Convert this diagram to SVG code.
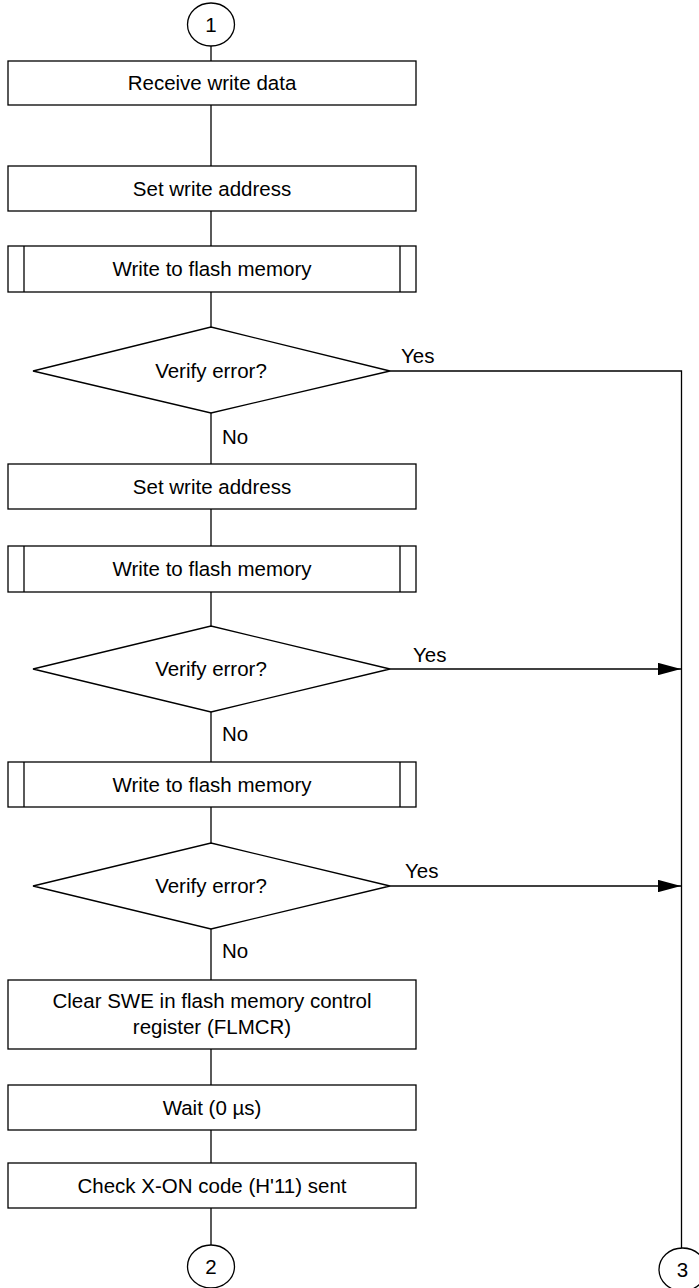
<svg xmlns="http://www.w3.org/2000/svg" width="699" height="1288" viewBox="0 0 699 1288">
<defs>
<style>
.s{fill:#fff;stroke:#000;stroke-width:1.3}
.l{fill:none;stroke:#000;stroke-width:1.3}
.t{font-family:"Liberation Sans",Arial,sans-serif;font-size:20.5px;fill:#000}
.c{text-anchor:middle}
</style>
<marker id="ah" viewBox="0 0 23 12.4" refX="23" refY="6.2" markerWidth="23" markerHeight="12.4" markerUnits="userSpaceOnUse" orient="auto">
<path d="M0,0 L23,6.2 L0,12.4 Z" fill="#000"/>
</marker>
</defs>
<g id="connectors">
<line class="l" x1="211" y1="46" x2="211" y2="61"/>
<line class="l" x1="211" y1="105" x2="211" y2="166"/>
<line class="l" x1="211" y1="211" x2="211" y2="246"/>
<line class="l" x1="211" y1="292" x2="211" y2="327"/>
<line class="l" x1="211" y1="413" x2="211" y2="464"/>
<line class="l" x1="211" y1="509" x2="211" y2="546"/>
<line class="l" x1="211" y1="592" x2="211" y2="626"/>
<line class="l" x1="211" y1="712" x2="211" y2="762"/>
<line class="l" x1="211" y1="807" x2="211" y2="843"/>
<line class="l" x1="211" y1="929" x2="211" y2="980"/>
<line class="l" x1="211" y1="1049" x2="211" y2="1085"/>
<line class="l" x1="211" y1="1130" x2="211" y2="1163"/>
<line class="l" x1="211" y1="1208" x2="211" y2="1245"/>
<polyline class="l" points="390,371 681.5,371 681.5,1248"/>
<line class="l" x1="390" y1="669" x2="681" y2="669" marker-end="url(#ah)"/>
<line class="l" x1="390" y1="886" x2="681" y2="886" marker-end="url(#ah)"/>
<text class="t" x="401" y="363">Yes</text>
<text class="t" x="413" y="662">Yes</text>
<text class="t" x="405" y="878">Yes</text>
<text class="t" x="222" y="444">No</text>
<text class="t" x="222" y="741">No</text>
<text class="t" x="222" y="958">No</text>
</g>
<g id="c1">
<ellipse class="s" cx="211" cy="24.5" rx="23.5" ry="21.5"/>
<text class="t c" x="211" y="32">1</text>
</g>
<g id="n1">
<rect class="s" x="8" y="61" width="408" height="44"/>
<text class="t c" x="212" y="90">Receive write data</text>
</g>
<g id="n2">
<rect class="s" x="8" y="166" width="408" height="45"/>
<text class="t c" x="212" y="196">Set write address</text>
</g>
<g id="n3">
<rect class="s" x="8" y="246" width="408" height="46"/>
<line class="l" x1="24" y1="246" x2="24" y2="292"/>
<line class="l" x1="400" y1="246" x2="400" y2="292"/>
<text class="t c" x="212" y="276">Write to flash memory</text>
</g>
<g id="d1">
<polygon class="s" points="33,371 211,327 390,371 211,413"/>
<text class="t c" x="211" y="378">Verify error?</text>
</g>
<g id="n4">
<rect class="s" x="8" y="464" width="408" height="45"/>
<text class="t c" x="212" y="494">Set write address</text>
</g>
<g id="n5">
<rect class="s" x="8" y="546" width="408" height="46"/>
<line class="l" x1="24" y1="546" x2="24" y2="592"/>
<line class="l" x1="400" y1="546" x2="400" y2="592"/>
<text class="t c" x="212" y="576">Write to flash memory</text>
</g>
<g id="d2">
<polygon class="s" points="33,669 211,626 390,669 211,712"/>
<text class="t c" x="211" y="676">Verify error?</text>
</g>
<g id="n6">
<rect class="s" x="8" y="762" width="408" height="45"/>
<line class="l" x1="24" y1="762" x2="24" y2="807"/>
<line class="l" x1="400" y1="762" x2="400" y2="807"/>
<text class="t c" x="212" y="792">Write to flash memory</text>
</g>
<g id="d3">
<polygon class="s" points="33,886 211,843 390,886 211,929"/>
<text class="t c" x="211" y="893">Verify error?</text>
</g>
<g id="n7">
<rect class="s" x="8" y="980" width="408" height="69"/>
<text class="t c" x="212" y="1008">Clear SWE in flash memory control</text>
<text class="t c" x="212" y="1034">register (FLMCR)</text>
</g>
<g id="n8">
<rect class="s" x="8" y="1085" width="408" height="45"/>
<text class="t c" x="212" y="1115">Wait (0 µs)</text>
</g>
<g id="n9">
<rect class="s" x="8" y="1163" width="408" height="45"/>
<text class="t c" x="212" y="1193">Check X-ON code (H'11) sent</text>
</g>
<g id="c2">
<ellipse class="s" cx="211" cy="1266.5" rx="23.5" ry="21.5"/>
<text class="t c" x="211" y="1274">2</text>
</g>
<g id="c3">
<ellipse class="s" cx="682.5" cy="1269.5" rx="23.5" ry="21.5"/>
<text class="t c" x="682.5" y="1277">3</text>
</g>
</svg>
